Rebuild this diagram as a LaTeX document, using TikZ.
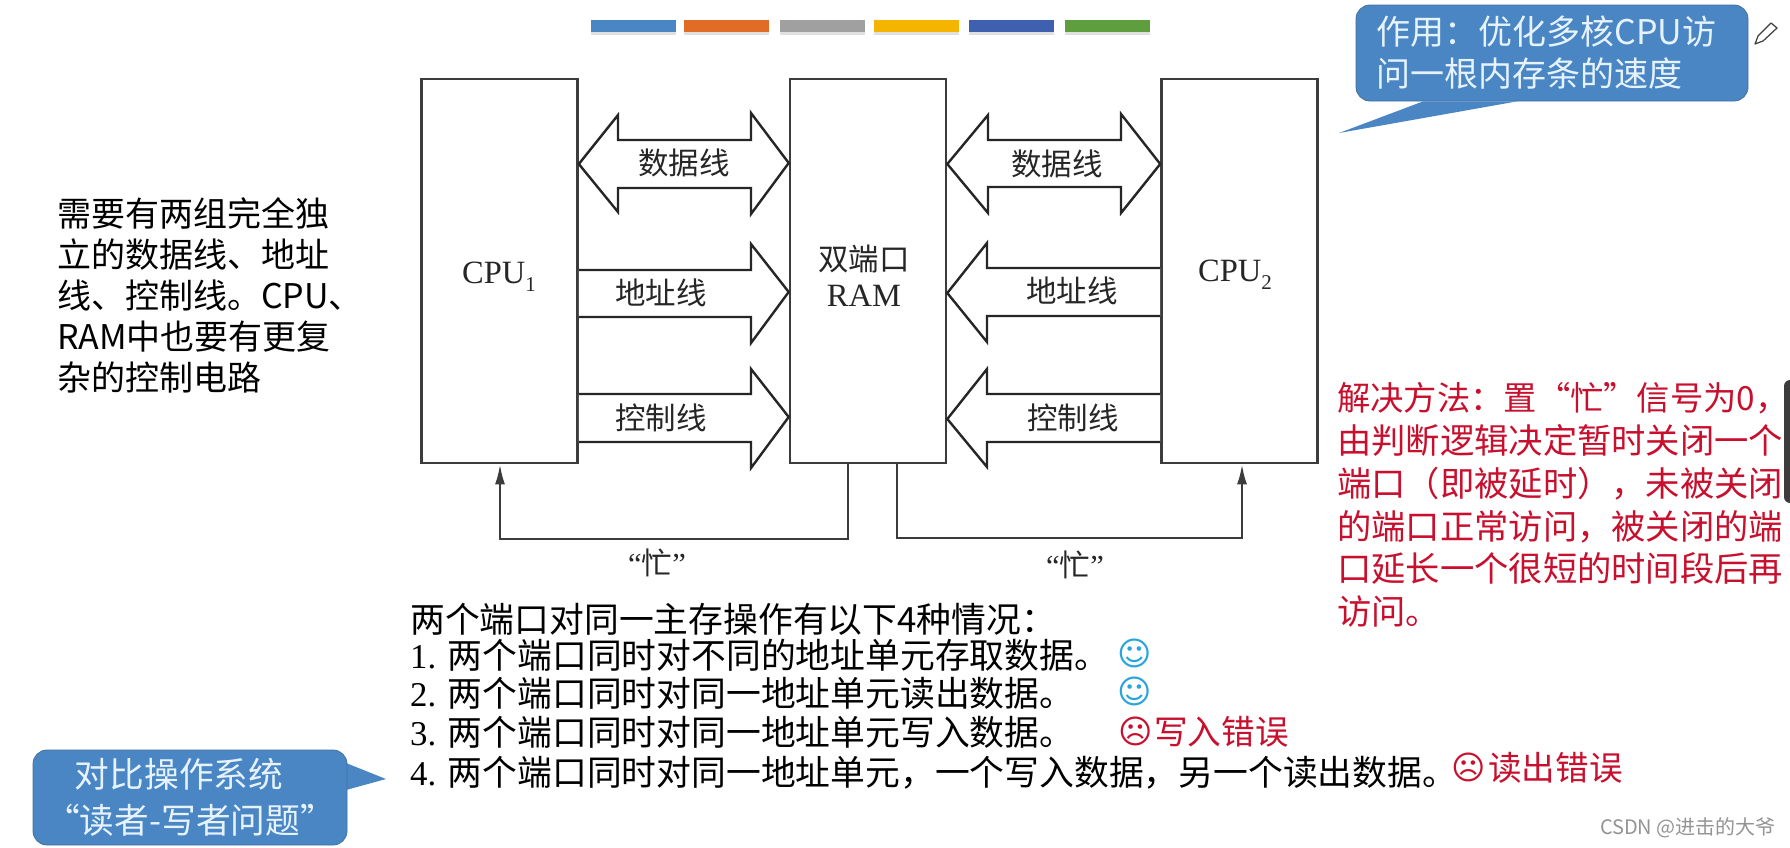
\documentclass[tikz,border=0pt]{standalone}
\usepackage{fontspec}
\setmainfont{Noto Sans CJK SC}
\newfontfamily\tm{Liberation Serif}
\newfontfamily\djv{DejaVu Sans}
\usetikzlibrary{arrows.meta,calc}
\definecolor{noteblue}{HTML}{4A86C3}
\definecolor{noteedge}{HTML}{41719C}
\definecolor{notetext}{HTML}{E6F3FF}
\definecolor{boxline}{HTML}{3C3C3C}
\definecolor{redtext}{HTML}{C8102E}
\definecolor{smile}{HTML}{2AA5DC}
\tikzset{
  box/.style={draw=boxline,line width=2.6pt,fill=white,minimum width=156pt,minimum height=384pt,inner sep=0pt},
  bus/.style={draw=black!85,line width=2.4pt,line join=miter,miter limit=6,fill=white},
  busy/.style={draw=boxline,line width=2.4pt},
  busytip/.style={-{Latex[length=20pt,width=10pt]}},
  lab/.style={font=\fontsize{30.5}{34}\selectfont,inner sep=0pt,text=black!85},
  serif/.style={font=\tm\fontsize{32.5}{36}\selectfont,inner sep=0pt,text=black!85},
  para/.style={font=\fontsize{34}{41}\selectfont,inner sep=0pt,align=left,anchor=west,text=black},
  listline/.style={font=\fontsize{34.8}{38}\selectfont,inner sep=0pt,anchor=west,text=black},
  errline/.style={font=\fontsize{33.6}{38}\selectfont,inner sep=0pt,anchor=west,text=redtext},
  face/.style={font=\djv\fontsize{33}{36}\selectfont,inner sep=0pt},
  bar/.style={inner sep=0pt,minimum width=85pt,minimum height=12pt},
  note/.style={fill=noteblue,draw=noteedge,line width=0.8pt,rounded corners=14pt,text=notetext,inner sep=0pt},
  shade/.style={fill=black,opacity=0.12}
}
\begin{document}
\begin{tikzpicture}[x=1pt,y=-1pt]
\useasboundingbox (0,0) rectangle (1790,847);
\fill[white] (0,0) rectangle (1790,847);
% colour bars
\foreach \xa/\col in {591/4A86C3,684/E06C25,780/A0A0A0,874/F5B400,969/3F5FAF,1065/5E9E3E}{
  \definecolor{barcol}{HTML}{\col}
  \fill[shade] (\xa,24) rectangle +(85,11);
  \node[bar,fill=barcol,anchor=north west] (bar\xa) at (\xa,20) {};
}
% boxes
\node[box] (cpu1) at (499.5,271) {};
\node[box] (ram)  at (868,271) {};
\node[box] (cpu2) at (1239.5,271) {};
% buses CPU1 - RAM
\draw[bus] (cpu1.east |- 0,164) -- (618,115) -- (618,140) -- (751,140) -- (751,113) -- (ram.west |- 0,163) -- (751,214) -- (751,188) -- (618,188) -- (618,212) -- cycle;
\draw[bus] (cpu1.east |- 0,270) -- (751,270) -- (751,244) -- (ram.west |- 0,292) -- (751,343) -- (751,317) -- (cpu1.east |- 0,317);
\draw[bus] (cpu1.east |- 0,394) -- (751,394) -- (751,369) -- (ram.west |- 0,417) -- (751,468) -- (751,442) -- (cpu1.east |- 0,442);
% buses RAM - CPU2
\draw[bus] (ram.east |- 0,164) -- (988,115) -- (988,140) -- (1121,140) -- (1121,114) -- (cpu2.west |- 0,164) -- (1121,213) -- (1121,187) -- (988,187) -- (988,213) -- cycle;
\draw[bus] (cpu2.west |- 0,268) -- (987,268) -- (987,243) -- (ram.east |- 0,293) -- (987,342) -- (987,316) -- (cpu2.west |- 0,316);
\draw[bus] (cpu2.west |- 0,394) -- (987,394) -- (987,369) -- (ram.east |- 0,419) -- (987,467) -- (987,442) -- (cpu2.west |- 0,442);
% busy lines
\draw[busy,busytip] (ram.south -| 848,0) -- (848,539) -- (500,539) -- (cpu1.south -| 500,0);
\draw[busy,busytip] (ram.south -| 897,0) -- (897,538) -- (1242,538) -- (cpu2.south -| 1242,0);
% labels
\node[serif] (lcpu1) at (499,277) {CPU\raisebox{-0.25em}{\fontsize{21}{21}\selectfont 1}};
\node[serif] (lcpu2) at (1235,275) {CPU\raisebox{-0.25em}{\fontsize{21}{21}\selectfont 2}};
\node[lab] (lram1) at (864,259) {双端口};
\node[serif] (lram2) at (864,296) {RAM};
\node[lab] (ld1) at (684,163) {数据线};
\node[lab] (ld2) at (1057,164) {数据线};
\node[lab] (la1) at (661,293) {地址线};
\node[lab] (la2) at (1072,291) {地址线};
\node[lab] (lc1) at (661,418) {控制线};
\node[lab] (lc2) at (1073,418) {控制线};
\node[lab] (lb1) at (657,563) {{\tm “}忙{\tm ”}};
\node[lab] (lb2) at (1075,565) {{\tm “}忙{\tm ”}};
% left paragraph
\node[para] (left) at (57,295) {需要有两组完全独\\立的数据线、地址\\线、控制线。CPU、\\RAM中也要有更复\\杂的控制电路};
% red paragraph
\node[para,text=redtext,font=\fontsize{34.3}{42.8}\selectfont] (red) at (1337,505) {{\fontsize{33.3}{42.8}\selectfont 解决方法：置“忙”信号为0，}\\由判断逻辑决定暂时关闭一个\\端口（即被延时），未被关闭\\的端口正常访问，被关闭的端\\口延长一个很短的时间段后再\\访问。};
\fill[boxline,rounded corners=6pt] (1784,380) rectangle (1800,503);
% list
\node[listline] (l0) at (410,619) {两个端口对同一主存操作有以下4种情况：};
\node[listline] (l1) at (410,655) {{\tm 1. }两个端口同时对不同的地址单元存取数据。};
\node[listline] (l2) at (410,693) {{\tm 2. }两个端口同时对同一地址单元读出数据。};
\node[listline] (l3) at (410,732) {{\tm 3. }两个端口同时对同一地址单元写入数据。};
\node[listline] (l4) at (410,773) {{\tm 4. }两个端口同时对同一地址单元，一个写入数据，另一个读出数据。};
\node[face,text=smile] (s1) at (1135,653) {☺};
\node[face,text=smile] (s2) at (1135,691) {☺};
\node[face,text=redtext] (f1) at (1136,731) {☹};
\node[face,text=redtext] (f2) at (1469,767) {☹};
\node[errline] (e1) at (1154,732) {写入错误};
\node[errline] (e2) at (1488,768) {读出错误};
% callouts
\node[note,minimum width=392pt,minimum height=96pt,font=\fontsize{34}{42}\selectfont,align=left,text width=351pt] (n1) at (1552,53) {作用：优化多核CPU访\\问一根内存条的速度};
\fill[noteblue] (n1.south -| 1423,0) -- (1339,133) -- (n1.south -| 1517,0) -- cycle;
\fill[noteblue] (346,763) -- (386,779) -- (346,790) -- cycle;
\node[note,minimum width=314pt,minimum height=95pt,font=\fontsize{34.7}{46}\selectfont,align=center,text width=300pt] (n2) at (190,797.5) {\hspace*{-22pt}对比操作系统\\“读者-写者问题”};
% pencil
\draw[boxline,line width=1.2pt,line join=round,fill=white] (1755,44) -- (1758,36) -- (1771,23) -- (1777,28) -- (1763,41) -- cycle;
% watermark
\node[inner sep=0pt,text=black!42,font=\fontsize{20}{24}\selectfont,anchor=east] (wm) at (1776,828) {CSDN @进击的大爷};
\end{tikzpicture}
\end{document}
